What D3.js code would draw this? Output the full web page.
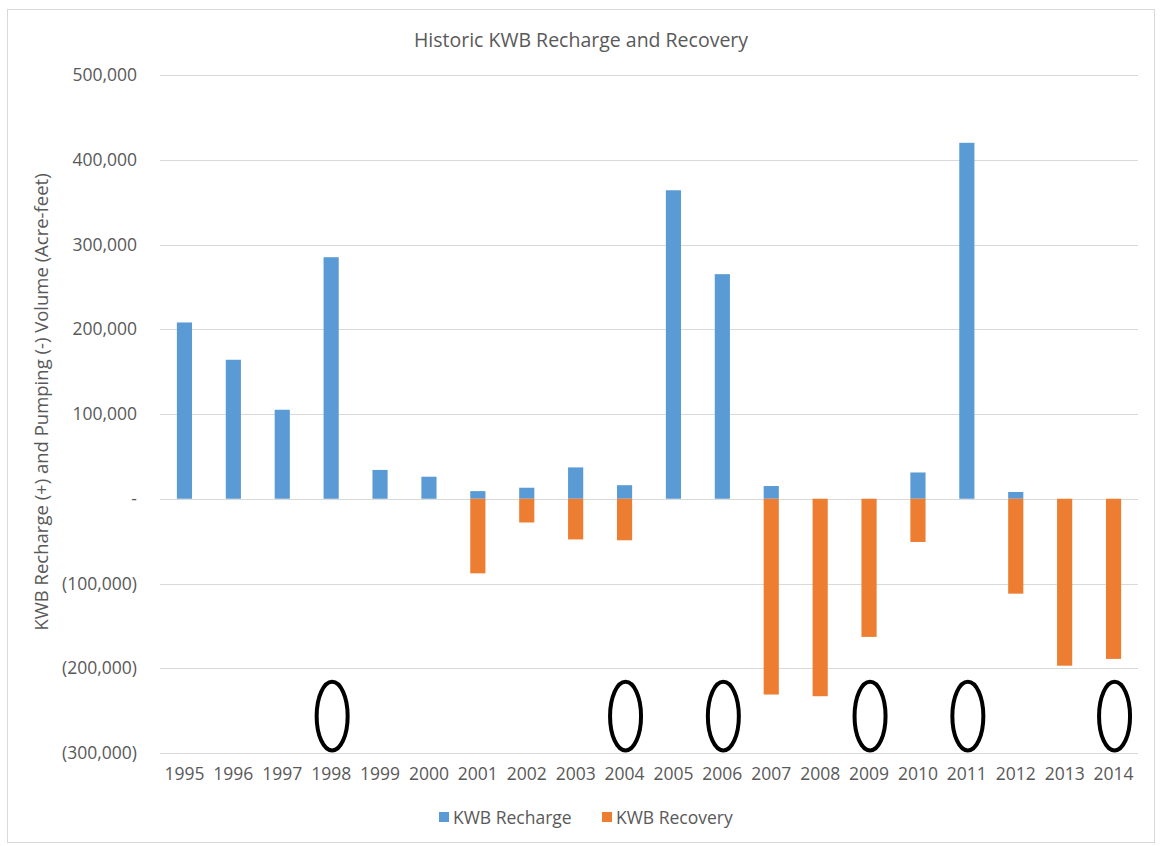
<!DOCTYPE html>
<html>
<head>
<meta charset="utf-8">
<script src="https://cdn.jsdelivr.net/npm/d3@7"></script>
<style>
  body { margin: 0; background: #fff; }
  svg text { font-family: "Open Sans", "Noto Sans", sans-serif; fill: #595959; }
</style>
</head>
<body>
<svg id="chart" width="1160" height="846"></svg>
<script>
const years = ['1995','1996','1997','1998','1999','2000','2001','2002','2003','2004',
               '2005','2006','2007','2008','2009','2010','2011','2012','2013','2014']
const recharge = [208000, 164000, 105000, 285000, 34000, 26000, 9000, 13000, 37000, 16000,
                  364000, 265000, 15000, 0, 0, 31000, 420000, 8000, 0, 0]
const recovery = [0, 0, 0, 0, 0, 0, -88000, -28000, -48000, -49000,
                  0, 0, -231000, -233000, -163000, -51000, 0, -112000, -197000, -189000]
const yTicks = [500000, 400000, 300000, 200000, 100000, 0, -100000, -200000, -300000]
const circledYears = ['1998', '2004', '2006', '2009', '2011', '2014']
const seriesNames = ['KWB Recharge', 'KWB Recovery']
const colors = ['#5B9BD5', '#ED7D31']

const svg = d3.select('#chart')
const margin = { top: 75, left: 160, right: 22, bottom: 93 }
const W = 1160, H = 846

// outer border
svg.append('rect')
  .attr('x', 7.5).attr('y', 9.5)
  .attr('width', 1147).attr('height', 833)
  .attr('fill', 'none').attr('stroke', '#d9d9d9')

const x = d3.scaleBand()
  .domain(years)
  .range([margin.left, W - margin.right])
  .paddingInner(0.69)
  .paddingOuter(0.345)

const y = d3.scaleLinear()
  .domain([-300000, 500000])
  .range([H - margin.bottom, margin.top])

const fmt = function(v) {
  if (v === 0) return '-'
  const s = d3.format(',')(Math.abs(v))
  return v < 0 ? '(' + s + ')' : s
}

// gridlines
svg.append('g')
  .selectAll('line')
  .data(yTicks)
  .join('line')
  .attr('x1', margin.left).attr('x2', W - margin.right)
  .attr('y1', d => Math.round(y(d)) + 0.5).attr('y2', d => Math.round(y(d)) + 0.5)
  .attr('stroke', '#d9d9d9').attr('stroke-width', 1)

// y axis labels
const yAxis = d3.axisLeft(y).tickValues(yTicks).tickFormat(fmt).tickSize(0).tickPadding(23)
const yg = svg.append('g').attr('transform', `translate(${margin.left},0)`).call(yAxis)
yg.select('.domain').remove()
yg.selectAll('text').attr('font-size', 17.5).attr('fill', '#595959')
  .style('font-family', '"Open Sans", sans-serif')

// x axis labels
const xAxis = d3.axisBottom(x).tickSize(0).tickPadding(15)
const xg = svg.append('g').attr('transform', `translate(0,${H - margin.bottom})`).call(xAxis)
xg.select('.domain').remove()
xg.selectAll('text').attr('font-size', 17.5).attr('fill', '#595959')
  .style('font-family', '"Open Sans", sans-serif')

// bars
svg.append('g')
  .selectAll('rect')
  .data(years.map((yr, i) => ({ yr, v: recharge[i] })).filter(d => d.v !== 0))
  .join('rect')
  .attr('x', d => x(d.yr)).attr('width', x.bandwidth())
  .attr('y', d => y(d.v)).attr('height', d => y(0) - y(d.v))
  .attr('fill', colors[0])

svg.append('g')
  .selectAll('rect')
  .data(years.map((yr, i) => ({ yr, v: recovery[i] })).filter(d => d.v !== 0))
  .join('rect')
  .attr('x', d => x(d.yr)).attr('width', x.bandwidth())
  .attr('y', y(0)).attr('height', d => y(d.v) - y(0))
  .attr('fill', colors[1])

// annotation ellipses
svg.append('g')
  .selectAll('ellipse')
  .data(circledYears)
  .join('ellipse')
  .attr('cx', d => x(d) + x.bandwidth() / 2 + 1)
  .attr('cy', (y(-216000) + y(-297000)) / 2)
  .attr('rx', 15.5)
  .attr('ry', (y(-297000) - y(-216000)) / 2)
  .attr('fill', 'none').attr('stroke', '#000').attr('stroke-width', 4)

// title
svg.append('text')
  .attr('x', 581).attr('y', 47)
  .attr('text-anchor', 'middle')
  .attr('font-size', 19.5)
  .text('Historic KWB Recharge and Recovery')

// y axis title
svg.append('text')
  .attr('transform', `translate(48,${(margin.top + H - margin.bottom) / 2 - 12}) rotate(-90)`)
  .attr('text-anchor', 'middle')
  .attr('font-size', 18.5)
  .text('KWB Recharge (+) and Pumping (-) Volume  (Acre-feet)')

// legend
const legendX = [439, 602]
const lg = svg.append('g')
seriesNames.forEach((name, i) => {
  lg.append('rect')
    .attr('x', legendX[i]).attr('y', 812)
    .attr('width', 10).attr('height', 10)
    .attr('fill', colors[i])
  lg.append('text')
    .attr('x', legendX[i] + 14).attr('y', 824)
    .attr('font-size', 17.5)
    .text(name)
})
</script>
</body>
</html>
